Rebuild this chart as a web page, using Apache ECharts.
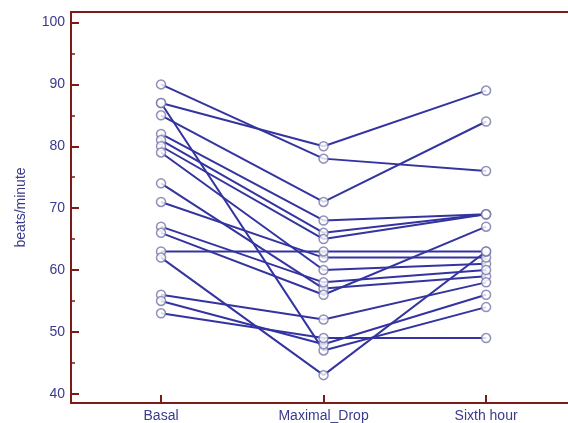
<!DOCTYPE html>
<html>
<head>
<meta charset="utf-8">
<script src="https://cdn.jsdelivr.net/npm/echarts@6/dist/echarts.min.js"></script>
<style>html,body{margin:0;padding:0;background:#fff;}#c{width:568px;height:423px;}</style>
</head>
<body>
<div id="c"></div>
<script>
var categories = ['Basal', 'Maximal_Drop', 'Sixth hour'];
var basal   = [90, 87, 87, 85, 82, 81, 80, 79, 74, 71, 67, 66, 63, 62, 56, 55, 53];
var maxDrop = [78, 80, 47, 71, 68, 66, 65, 60, 57, 62, 58, 56, 63, 43, 52, 48, 49];
var sixth   = [76, 89, 54, 84, 69, 69, 69, 61, 59, 62, 60, 67, 63, 63, 58, 56, 49];
var yTicks = [40, 50, 60, 70, 80, 90, 100];
var yMinorTicks = [45, 55, 65, 75, 85, 95];

var axisColor = '#7d1a1a';
var textColor = '#3a3a8c';
var lineColor = '#3434a0';

var series = [];
var pts = [];
for (var i = 0; i < basal.length; i++) {
  var d = [[0, basal[i]], [1, maxDrop[i]], [2, sixth[i]]];
  series.push({
    type: 'line', data: d, showSymbol: false, silent: true, animation: false,
    lineStyle: {color: lineColor, width: 2}, z: 2
  });
  pts = pts.concat(d);
}
series.push({
  type: 'scatter', data: pts, symbol: 'circle', symbolSize: 9, z: 5, animation: false,
  itemStyle: {color: '#ffffff', borderColor: '#7474a8', borderWidth: 1.5}
});

var xMin = -0.554, xMax = 2.504;
var chart = echarts.init(document.getElementById('c'));
chart.setOption({
  animation: false,
  grid: {left: 71, right: 0, top: 12, bottom: 20, show: false},
  xAxis: [{
    type: 'value', min: xMin, max: xMax, position: 'bottom',
    splitLine: {show: false},
    axisLine: {show: true, onZero: false, lineStyle: {color: axisColor, width: 2}},
    axisTick: {show: true, inside: true, length: 8, customValues: [0, 1, 2], lineStyle: {color: axisColor, width: 2}},
    axisLabel: {customValues: [0, 1, 2], formatter: function (v) { return categories[Math.round(v)]; },
      color: textColor, fontFamily: 'Liberation Sans', fontSize: 14, margin: 6}
  }, {
    type: 'value', min: xMin, max: xMax, position: 'top',
    splitLine: {show: false},
    axisLine: {show: true, onZero: false, lineStyle: {color: axisColor, width: 2}},
    axisTick: {show: false}, axisLabel: {show: false}
  }],
  yAxis: [{
    type: 'value', min: 38.5, max: 101.7, position: 'left',
    name: 'beats/minute', nameLocation: 'middle', nameGap: 43,
    nameTextStyle: {color: textColor, fontFamily: 'Liberation Sans', fontSize: 14},
    splitLine: {show: false},
    axisLine: {show: true, onZero: false, lineStyle: {color: axisColor, width: 2}},
    axisTick: {show: true, inside: true, length: 8, customValues: yTicks, lineStyle: {color: axisColor, width: 2}},
    axisLabel: {customValues: yTicks, color: textColor, fontFamily: 'Liberation Sans', fontSize: 14, margin: 6}
  }, {
    type: 'value', min: 38.5, max: 101.7, position: 'left',
    splitLine: {show: false},
    axisLine: {show: false, onZero: false},
    axisTick: {show: true, inside: true, length: 4, customValues: yMinorTicks, lineStyle: {color: axisColor, width: 1.5}},
    axisLabel: {show: false}
  }],
  series: series
});
</script>
</body>
</html>
